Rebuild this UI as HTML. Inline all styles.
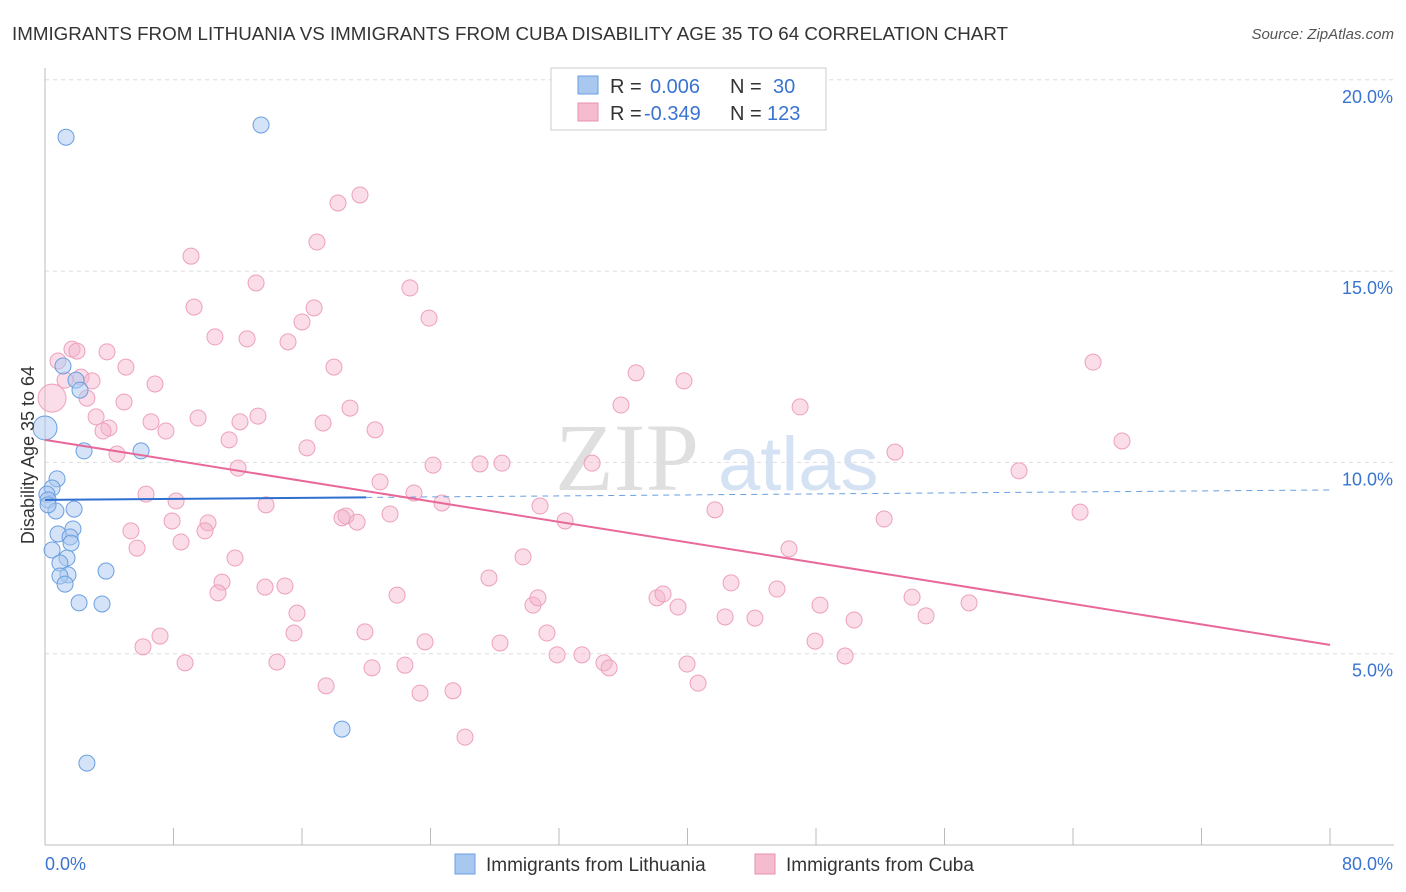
<!DOCTYPE html>
<html><head><meta charset="utf-8"><style>
body{margin:0;background:#fff;font-family:"Liberation Sans",sans-serif;}
svg{display:block}
</style></head><body>
<svg id="chart" width="1406" height="892" xmlns="http://www.w3.org/2000/svg">
<text x="12" y="40" font-size="18.5" fill="#333" textLength="996" lengthAdjust="spacingAndGlyphs">IMMIGRANTS FROM LITHUANIA VS IMMIGRANTS FROM CUBA DISABILITY AGE 35 TO 64 CORRELATION CHART</text>
<text x="1394" y="39" font-size="15" fill="#555" font-style="italic" text-anchor="end">Source: ZipAtlas.com</text>
<g>
<text x="555" y="490" font-size="96" font-family="Liberation Serif,serif" fill="#d8d8d8" opacity="0.8">ZIP</text>
<text x="718" y="490" font-size="76" fill="#b8d0ee" opacity="0.6">atlas</text>
</g>
<g id="grid"></g>
<g id="axes"></g>
<g id="marks"></g>
<g>
<rect x="551" y="68" width="275" height="62" fill="#fff" stroke="#ccc"/>
<rect x="578" y="76" width="20" height="18" fill="#a9c8f0" stroke="#6a9fe0"/>
<rect x="578" y="103" width="20" height="18" fill="#f5bcd0" stroke="#e890ad"/>
<text x="610" y="93" font-size="20" fill="#333">R =</text>
<text x="650" y="93" font-size="20" fill="#3a74d0">0.006</text>
<text x="730" y="93" font-size="20" fill="#333">N =</text>
<text x="773" y="93" font-size="20" fill="#3a74d0">30</text>
<text x="610" y="120" font-size="20" fill="#333">R =</text>
<text x="644" y="120" font-size="20" fill="#3a74d0">-0.349</text>
<text x="730" y="120" font-size="20" fill="#333">N =</text>
<text x="767" y="120" font-size="20" fill="#3a74d0">123</text>
</g>
<g>
<rect x="455" y="854" width="20" height="20" fill="#a9c8f0" stroke="#6a9fe0"/>
<text x="486" y="871" font-size="19" fill="#333">Immigrants from Lithuania</text>
<rect x="755" y="854" width="20" height="20" fill="#f5bcd0" stroke="#e890ad"/>
<text x="786" y="871" font-size="19" fill="#333">Immigrants from Cuba</text>
</g>
<text transform="translate(34,455) rotate(-90)" font-size="18" fill="#333" text-anchor="middle">Disability Age 35 to 64</text>
</svg>
<script>
const yTicks=[5,10,15,20];
const yTickLabels=["5.0%","10.0%","15.0%","20.0%"];
const xTickCount=10;
const blueX=[1.31,13.45,0,2.43,5.98,0.75,0.44,0.12,0.19,0.68,1.81,1.74,0.81,1.56,1.62,0.44,1.37,0.93,1.43,0.93,1.25,3.80,2.12,3.55,1.12,1.93,2.18,18.49,2.61,0.19];
const blueY=[18.50,18.82,10.90,10.30,10.30,9.57,9.33,9.17,9.02,8.73,8.78,8.26,8.13,8.05,7.89,7.71,7.50,7.37,7.06,7.03,6.82,7.16,6.33,6.30,12.52,12.15,11.89,3.03,2.14,8.89];
const pinkX=[0.44,0.81,1.68,1.99,1.25,2.24,2.93,2.61,3.86,5.04,3.18,3.98,3.61,4.92,4.48,6.85,6.60,7.53,9.09,9.28,10.58,12.58,13.14,15.13,16.00,16.75,16.93,18.24,19.61,17.99,18.99,17.31,20.55,16.31,13.26,12.14,11.46,9.53,12.02,22.72,23.91,6.29,8.16,13.76,5.35,5.73,7.91,8.47,10.15,9.96,11.83,11.02,10.77,13.70,14.94,15.69,15.50,7.16,6.10,8.72,14.44,17.50,19.92,20.36,22.41,23.35,25.40,26.15,21.92,23.66,28.33,31.25,31.88,33.43,34.80,35.12,39.97,40.66,21.48,18.74,19.43,18.49,20.86,22.97,24.71,24.16,27.08,28.45,30.82,32.38,34.06,29.76,27.64,30.38,30.69,35.86,36.80,39.78,38.10,38.48,39.41,41.71,42.71,42.34,44.20,45.57,46.32,47.94,48.25,49.81,50.37,47.01,52.24,52.92,53.98,54.85,57.53,60.64,64.44,65.25,67.05];
const pinkY=[11.68,12.65,12.96,12.91,12.15,12.23,12.13,11.68,12.89,12.49,11.19,10.90,10.82,11.58,10.22,12.05,11.06,10.82,15.39,14.06,13.28,13.23,14.69,13.15,13.67,14.04,15.76,16.78,16.99,12.49,11.42,11.03,10.85,10.38,11.21,11.06,10.59,11.16,9.85,14.56,13.77,9.17,8.99,8.89,8.21,7.76,8.47,7.92,8.42,8.21,7.50,6.87,6.59,6.74,6.77,6.06,5.54,5.46,5.18,4.76,4.78,4.16,5.57,4.63,4.70,3.97,4.03,2.82,6.53,5.31,5.28,5.54,4.97,4.97,4.76,4.63,4.73,4.23,8.65,8.60,8.44,8.55,9.49,9.20,8.94,9.93,9.96,9.98,8.86,8.47,9.98,7.53,6.98,6.27,6.46,11.50,12.34,12.13,6.46,6.56,6.22,8.76,6.85,5.96,5.93,6.69,7.74,5.33,6.27,4.94,5.88,11.45,8.52,10.27,6.48,5.99,6.33,9.78,8.70,12.62,10.56];
const blueTrend=[9.02,9.28];
const pinkTrend=[10.59,5.23];
const NS="http://www.w3.org/2000/svg";
const X=v=>45+v/80*1285;
const Y=v=>845-v/5*191.3;
function mk(tag,attrs,parent){const e=document.createElementNS(NS,tag);for(const k in attrs)e.setAttribute(k,attrs[k]);parent.appendChild(e);return e;}
const grid=document.getElementById('grid'),axes=document.getElementById('axes'),marks=document.getElementById('marks');
yTicks.forEach((t,i)=>{
 const l=mk('line',{x1:45,x2:1394,y1:Y(t),y2:Y(t),stroke:'#ddd','stroke-dasharray':'4,4'},grid);
 
 
 const tx=mk('text',{x:1393,y:Y(t)+23,'font-size':18,fill:'#3a74d0','text-anchor':'end'},axes);
 tx.textContent=yTickLabels[i];
 
 
});
const xa=mk('line',{x1:45,x2:1394,y1:845,y2:845,stroke:'#bbb'},axes);


const ya=mk('line',{x1:45,x2:45,y1:68,y2:845,stroke:'#bbb'},axes);


for(let i=0;i<=xTickCount;i++){
 const t=mk('line',{x1:X(i*8),x2:X(i*8),y1:828,y2:845,stroke:'#bbb'},axes);
 
 
}
const x0=mk('text',{x:45,y:870,'font-size':18,fill:'#3a74d0'},axes);x0.textContent='0.0%';


const x1=mk('text',{x:1393,y:870,'font-size':18,fill:'#3a74d0','text-anchor':'end'},axes);x1.textContent='80.0%';


pinkX.forEach((v,i)=>{
 const c=mk('circle',{cx:X(v),cy:Y(pinkY[i]),r:i==0?14:8,fill:'rgba(245,180,204,0.45)',stroke:'#eea0bb','stroke-width':1},marks);
 
 
});
blueX.forEach((v,i)=>{
 const c=mk('circle',{cx:X(v),cy:Y(blueY[i]),r:i==2?12:8,fill:'rgba(169,200,240,0.5)',stroke:'#6a9fe0','stroke-width':1},marks);
 
 
});
const by=v=>blueTrend[0]+(blueTrend[1]-blueTrend[0])*v/80;
const b1=mk('line',{x1:X(0),y1:Y(by(0)),x2:X(20),y2:Y(by(20)),stroke:'#2f6fd0','stroke-width':2},marks);


const b2=mk('line',{x1:X(20),y1:Y(by(20)),x2:X(80),y2:Y(by(80)),stroke:'#6a9fe0','stroke-width':1,'stroke-dasharray':'6,5'},marks);


const p=mk('line',{x1:X(0),y1:Y(pinkTrend[0]),x2:X(80),y2:Y(pinkTrend[1]),stroke:'#e8689a','stroke-width':2},marks);


</script>
</body></html>
